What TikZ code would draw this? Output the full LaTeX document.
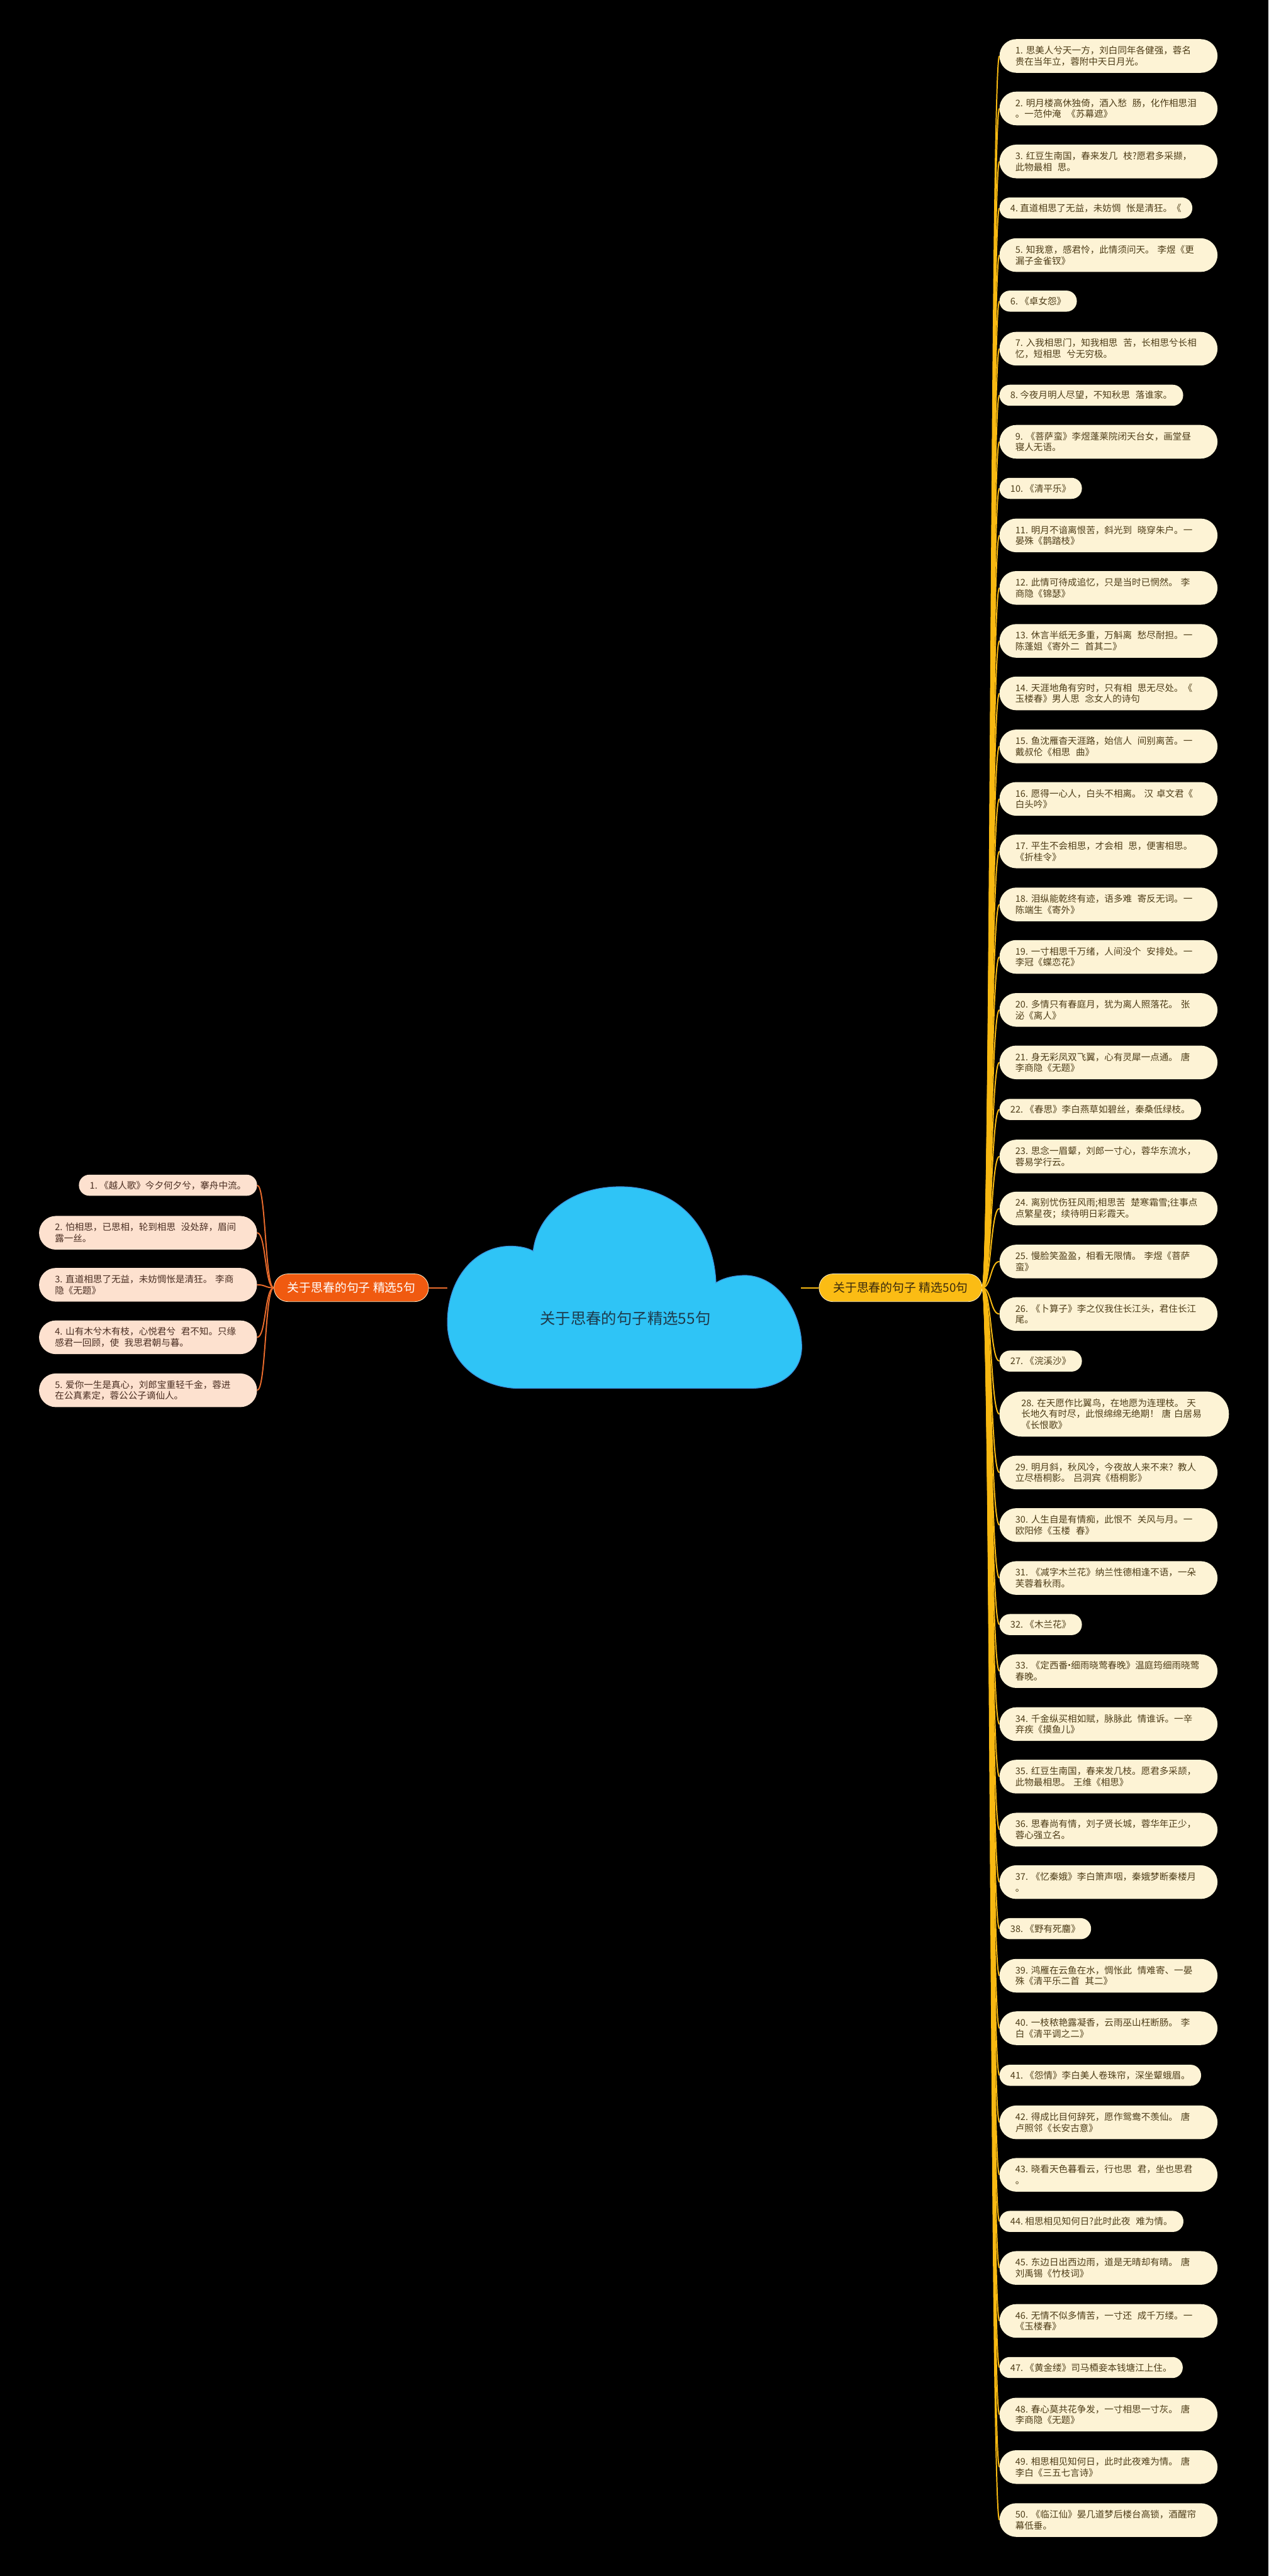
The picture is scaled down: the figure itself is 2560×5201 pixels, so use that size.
\documentclass[tikz,border=0pt]{standalone}
\usepackage{fontspec}
\usepackage{tikz}
\newfontfamily\cjk{Noto Sans CJK SC}
\newcommand{\gapsp}{\kern.6em}
\newcommand{\middot}{\makebox[.35em]{·}}

\definecolor{cream}{HTML}{FDF3D5}
\definecolor{creamtext}{HTML}{4E3D18}
\definecolor{gold}{HTML}{F8B912}
\definecolor{goldfill}{HTML}{FBBC14}
\definecolor{goldtext}{HTML}{3A2A0C}
\definecolor{peach}{HTML}{FDE1CF}
\definecolor{peachtext}{HTML}{4A2E22}
\definecolor{orng}{HTML}{F05A10}
\definecolor{orngline}{HTML}{E96B2C}
\definecolor{edge}{HTML}{FFF1CC}
\definecolor{sky}{HTML}{2FC4F6}
\definecolor{skyline}{HTML}{3B8FDB}
\definecolor{skytext}{HTML}{1E3B4C}

\begin{document}
\begin{tikzpicture}[
        x=1pt, y=-1pt,
        leaf/.style={rectangle, inner ysep=6pt, font=\cjk\fontsize{18.5pt}{22.5pt}\selectfont},
        rone/.style={leaf, fill=cream, text=creamtext, anchor=west, minimum height=42.5pt, rounded corners=21pt, inner xsep=22pt},
        rtwo/.style={leaf, fill=cream, text=creamtext, anchor=west, minimum height=68pt, rounded corners=34pt, inner xsep=32pt, text width=376pt, align=left},
        rthree/.style={rtwo, minimum height=91pt, rounded corners=45pt, inner xsep=44pt, text width=375pt},
        lone/.style={leaf, fill=peach, text=peachtext, anchor=east, minimum height=42.5pt, rounded corners=21pt, inner xsep=22pt},
        ltwo/.style={leaf, fill=peach, text=peachtext, anchor=east, minimum height=68pt, rounded corners=34pt, inner xsep=32pt, text width=376pt, align=left},
        branch/.style={rectangle, rounded corners=28pt, minimum height=56pt, draw=edge, line width=1pt, font=\cjk\fontsize{24pt}{28pt}\selectfont},
        rline/.style={draw=gold, line width=2.5pt},
        lline/.style={draw=orngline, line width=2.5pt}
    ]

    % Background
    \fill[black] (0,0) rectangle (2560,5201);

    % Cloud in the middle
    \draw[fill=sky, draw=skyline, line width=1.5pt] (1040,2803)
        .. controls (960,2798) and (903,2745) .. (903,2670)
        .. controls (903,2580) and (960,2516) .. (1030,2516)
        .. controls (1050,2516) and (1066,2520) .. (1076,2526)
        .. controls (1086,2445) and (1160,2396) .. (1252,2396)
        .. controls (1365,2396) and (1440,2475) .. (1445,2590)
        .. controls (1462,2579) and (1484,2575) .. (1506,2575)
        .. controls (1572,2578) and (1618,2650) .. (1618,2720)
        .. controls (1618,2772) and (1572,2803) .. (1515,2803)
        -- cycle;
    \node[font=\cjk\fontsize{31pt}{36pt}\selectfont, text=skytext] (root) at (1262,2662) {关于思春的句子精选55句};
    \coordinate (cw) at (903,2600);
    \coordinate (ce) at (1617,2600);

    % Branches
    \node[branch, fill=orng, text=white, minimum width=312pt] (lb) at (709,2600) {关于思春的句子~精选5句};
    \node[branch, fill=goldfill, text=goldtext, minimum width=329pt] (rb) at (1817.5,2600) {关于思春的句子~精选50句};

    \draw[lline] (cw) -- (lb.east);
    \draw[rline] (ce) -- (rb.west);

    % Left leaves
    \node[lone] (l1) at (519,2393) {1.~《越人歌》今夕何夕兮，搴舟中流。};
    \node[ltwo] (l2) at (519,2489) {2.~怕相思，已思相，轮到相思\gapsp 没处辞，眉间\\露一丝。};
    \node[ltwo] (l3) at (519,2594) {3.~直道相思了无益，未妨惆怅是清狂。~李商\\隐《无题》};
    \node[ltwo] (l4) at (519,2700) {4.~山有木兮木有枝，心悦君兮\gapsp 君不知。只缘\\感君一回顾，使\gapsp 我思君朝与暮。};
    \node[ltwo] (l5) at (519,2807) {5.~爱你一生是真心，刘郎宝重轻千金，蓉进\\在公真素定，蓉公公子谪仙人。};

    % Right leaves
    \node[rtwo] (r1) at (2017,113) {1.~思美人兮天一方，刘白同年各健强，蓉名\\贵在当年立，蓉附中天日月光。};
    \node[rtwo] (r2) at (2017,219) {2.~明月楼高休独倚，酒入愁\gapsp 肠，化作相思泪\\。一范仲淹\gapsp 《苏幕遮》};
    \node[rtwo] (r3) at (2017,326) {3.~红豆生南国，春来发几\gapsp 枝?愿君多采撷，\\此物最相\gapsp 思。};
    \node[rone] (r4) at (2017,420) {4.~直道相思了无益，未妨惆\gapsp 怅是清狂。《};
    \node[rtwo] (r5) at (2017,515) {5.~知我意，感君怜，此情须问天。~李煜《更\\漏子金雀钗》};
    \node[rone] (r6) at (2017,608) {6.~《卓女怨》};
    \node[rtwo] (r7) at (2017,704) {7.~入我相思门，知我相思\gapsp 苦，长相思兮长相\\忆，短相思\gapsp 兮无穷极。};
    \node[rone] (r8) at (2017,798) {8.~今夜月明人尽望，不知秋思\gapsp 落谁家。};
    \node[rtwo] (r9) at (2017,892) {9.~《菩萨蛮》李煜蓬莱院闭天台女，画堂昼\\寝人无语。};
    \node[rone] (r10) at (2017,986) {10.~《清平乐》};
    \node[rtwo] (r11) at (2017,1081) {11.~明月不谙离恨苦，斜光到\gapsp 晓穿朱户。一\\晏殊《鹊踏枝》};
    \node[rtwo] (r12) at (2017,1187) {12.~此情可待成追忆，只是当时已惘然。~李\\商隐《锦瑟》};
    \node[rtwo] (r13) at (2017,1294) {13.~休言半纸无多重，万斛离\gapsp 愁尽耐担。一\\陈蓬姐《寄外二\gapsp 首其二》};
    \node[rtwo] (r14) at (2017,1400) {14.~天涯地角有穷时，只有相\gapsp 思无尽处。《\\玉楼春》男人思\gapsp 念女人的诗句};
    \node[rtwo] (r15) at (2017,1507) {15.~鱼沈雁杳天涯路，始信人\gapsp 间别离苦。一\\戴叔伦《相思\gapsp 曲》};
    \node[rtwo] (r16) at (2017,1613) {16.~愿得一心人，白头不相离。~汉~卓文君《\\白头吟》};
    \node[rtwo] (r17) at (2017,1719) {17.~平生不会相思，才会相\gapsp 思，便害相思。\\《折桂令》};
    \node[rtwo] (r18) at (2017,1826) {18.~泪纵能乾终有迹，语多难\gapsp 寄反无词。一\\陈端生《寄外》};
    \node[rtwo] (r19) at (2017,1932) {19.~一寸相思千万绪，人间没个\gapsp 安排处。一\\李冠《蝶恋花》};
    \node[rtwo] (r20) at (2017,2039) {20.~多情只有春庭月，犹为离人照落花。~张\\泌《离人》};
    \node[rtwo] (r21) at (2017,2145) {21.~身无彩凤双飞翼，心有灵犀一点通。~唐\\李商隐《无题》};
    \node[rone] (r22) at (2017,2240) {22.~《春思》李白燕草如碧丝，秦桑低绿枝。};
    \node[rtwo] (r23) at (2017,2335) {23.~思念一眉颦，刘郎一寸心，蓉华东流水，\\蓉易学行云。};
    \node[rtwo] (r24) at (2017,2440) {24.~离别忧伤狂风雨;相思苦\gapsp 楚寒霜雪;往事点\\点繁星夜；续待明日彩霞天。};
    \node[rtwo] (r25) at (2017,2547) {25.~慢脸笑盈盈，相看无限情。~李煜《菩萨\\蛮》};
    \node[rtwo] (r26) at (2017,2653) {26.~《卜算子》李之仪我住长江头，君住长江\\尾。};
    \node[rone] (r27) at (2017,2748) {27.~《浣溪沙》};
    \node[rthree] (r28) at (2017,2855) {28.~在天愿作比翼鸟，在地愿为连理枝。~天\\长地久有时尽，此恨绵绵无绝期！~唐~白居易\\《长恨歌》};
    \node[rtwo] (r29) at (2017,2973) {29.~明月斜，秋风冷，今夜故人来不来？教人\\立尽梧桐影。~吕洞宾《梧桐影》};
    \node[rtwo] (r30) at (2017,3079) {30.~人生自是有情痴，此恨不\gapsp 关风与月。一\\欧阳修《玉楼\gapsp 春》};
    \node[rtwo] (r31) at (2017,3186) {31.~《减字木兰花》纳兰性德相逢不语，一朵\\芙蓉着秋雨。};
    \node[rone] (r32) at (2017,3280) {32.~《木兰花》};
    \node[rtwo] (r33) at (2017,3374) {33.~《定西番\middot 细雨晓莺春晚》温庭筠细雨晓莺\\春晚。};
    \node[rtwo] (r34) at (2017,3481) {34.~千金纵买相如赋，脉脉此\gapsp 情谁诉。一辛\\弃疾《摸鱼儿》};
    \node[rtwo] (r35) at (2017,3587) {35.~红豆生南国，春来发几枝。愿君多采颉，\\此物最相思。~王维《相思》};
    \node[rtwo] (r36) at (2017,3694) {36.~思春尚有情，刘子贤长城，蓉华年正少，\\蓉心强立名。};
    \node[rtwo] (r37) at (2017,3800) {37.~《忆秦娥》李白箫声咽，秦娥梦断秦楼月\\。};
    \node[rone] (r38) at (2017,3894) {38.~《野有死麕》};
    \node[rtwo] (r39) at (2017,3989) {39.~鸿雁在云鱼在水，惆怅此\gapsp 情难寄、一晏\\殊《清平乐二首\gapsp 其二》};
    \node[rtwo] (r40) at (2017,4095) {40.~一枝秾艳露凝香，云雨巫山枉断肠。~李\\白《清平调之二》};
    \node[rone] (r41) at (2017,4190) {41.~《怨情》李白美人卷珠帘，深坐颦蛾眉。};
    \node[rtwo] (r42) at (2017,4285) {42.~得成比目何辞死，愿作鸳鸯不羡仙。~唐\\卢照邻《长安古意》};
    \node[rtwo] (r43) at (2017,4391) {43.~晓看天色暮看云，行也思\gapsp 君，坐也思君\\。};
    \node[rone] (r44) at (2017,4485) {44.~相思相见知何日?此时此夜\gapsp 难为情。};
    \node[rtwo] (r45) at (2017,4579) {45.~东边日出西边雨，道是无晴却有晴。~唐\\刘禹锡《竹枝词》};
    \node[rtwo] (r46) at (2017,4686) {46.~无情不似多情苦，一寸还\gapsp 成千万缕。一\\《玉楼春》};
    \node[rone] (r47) at (2017,4780) {47.~《黄金缕》司马槱妾本钱塘江上住。};
    \node[rtwo] (r48) at (2017,4875) {48.~春心莫共花争发，一寸相思一寸灰。~唐\\李商隐《无题》};
    \node[rtwo] (r49) at (2017,4981) {49.~相思相见知何日，此时此夜难为情。~唐\\李白《三五七言诗》};
    \node[rtwo] (r50) at (2017,5088) {50.~《临江仙》晏几道梦后楼台高锁，酒醒帘\\幕低垂。};

    % Left connectors
    \draw[lline] (lb.west) .. controls +(-18,0) and +(18,0) .. (l1.east);
    \draw[lline] (lb.west) .. controls +(-18,0) and +(18,0) .. (l2.east);
    \draw[lline] (lb.west) .. controls +(-18,0) and +(18,0) .. (l3.east);
    \draw[lline] (lb.west) .. controls +(-18,0) and +(18,0) .. (l4.east);
    \draw[lline] (lb.west) .. controls +(-18,0) and +(18,0) .. (l5.east);

    % Right connectors
    \draw[rline] (rb.east) .. controls +(18,0) and +(-18,0) .. (r1.west);
    \draw[rline] (rb.east) .. controls +(18,0) and +(-18,0) .. (r2.west);
    \draw[rline] (rb.east) .. controls +(18,0) and +(-18,0) .. (r3.west);
    \draw[rline] (rb.east) .. controls +(18,0) and +(-18,0) .. (r4.west);
    \draw[rline] (rb.east) .. controls +(18,0) and +(-18,0) .. (r5.west);
    \draw[rline] (rb.east) .. controls +(18,0) and +(-18,0) .. (r6.west);
    \draw[rline] (rb.east) .. controls +(18,0) and +(-18,0) .. (r7.west);
    \draw[rline] (rb.east) .. controls +(18,0) and +(-18,0) .. (r8.west);
    \draw[rline] (rb.east) .. controls +(18,0) and +(-18,0) .. (r9.west);
    \draw[rline] (rb.east) .. controls +(18,0) and +(-18,0) .. (r10.west);
    \draw[rline] (rb.east) .. controls +(18,0) and +(-18,0) .. (r11.west);
    \draw[rline] (rb.east) .. controls +(18,0) and +(-18,0) .. (r12.west);
    \draw[rline] (rb.east) .. controls +(18,0) and +(-18,0) .. (r13.west);
    \draw[rline] (rb.east) .. controls +(18,0) and +(-18,0) .. (r14.west);
    \draw[rline] (rb.east) .. controls +(18,0) and +(-18,0) .. (r15.west);
    \draw[rline] (rb.east) .. controls +(18,0) and +(-18,0) .. (r16.west);
    \draw[rline] (rb.east) .. controls +(18,0) and +(-18,0) .. (r17.west);
    \draw[rline] (rb.east) .. controls +(18,0) and +(-18,0) .. (r18.west);
    \draw[rline] (rb.east) .. controls +(18,0) and +(-18,0) .. (r19.west);
    \draw[rline] (rb.east) .. controls +(18,0) and +(-18,0) .. (r20.west);
    \draw[rline] (rb.east) .. controls +(18,0) and +(-18,0) .. (r21.west);
    \draw[rline] (rb.east) .. controls +(18,0) and +(-18,0) .. (r22.west);
    \draw[rline] (rb.east) .. controls +(18,0) and +(-18,0) .. (r23.west);
    \draw[rline] (rb.east) .. controls +(18,0) and +(-18,0) .. (r24.west);
    \draw[rline] (rb.east) .. controls +(18,0) and +(-18,0) .. (r25.west);
    \draw[rline] (rb.east) .. controls +(18,0) and +(-18,0) .. (r26.west);
    \draw[rline] (rb.east) .. controls +(18,0) and +(-18,0) .. (r27.west);
    \draw[rline] (rb.east) .. controls +(18,0) and +(-18,0) .. (r28.west);
    \draw[rline] (rb.east) .. controls +(18,0) and +(-18,0) .. (r29.west);
    \draw[rline] (rb.east) .. controls +(18,0) and +(-18,0) .. (r30.west);
    \draw[rline] (rb.east) .. controls +(18,0) and +(-18,0) .. (r31.west);
    \draw[rline] (rb.east) .. controls +(18,0) and +(-18,0) .. (r32.west);
    \draw[rline] (rb.east) .. controls +(18,0) and +(-18,0) .. (r33.west);
    \draw[rline] (rb.east) .. controls +(18,0) and +(-18,0) .. (r34.west);
    \draw[rline] (rb.east) .. controls +(18,0) and +(-18,0) .. (r35.west);
    \draw[rline] (rb.east) .. controls +(18,0) and +(-18,0) .. (r36.west);
    \draw[rline] (rb.east) .. controls +(18,0) and +(-18,0) .. (r37.west);
    \draw[rline] (rb.east) .. controls +(18,0) and +(-18,0) .. (r38.west);
    \draw[rline] (rb.east) .. controls +(18,0) and +(-18,0) .. (r39.west);
    \draw[rline] (rb.east) .. controls +(18,0) and +(-18,0) .. (r40.west);
    \draw[rline] (rb.east) .. controls +(18,0) and +(-18,0) .. (r41.west);
    \draw[rline] (rb.east) .. controls +(18,0) and +(-18,0) .. (r42.west);
    \draw[rline] (rb.east) .. controls +(18,0) and +(-18,0) .. (r43.west);
    \draw[rline] (rb.east) .. controls +(18,0) and +(-18,0) .. (r44.west);
    \draw[rline] (rb.east) .. controls +(18,0) and +(-18,0) .. (r45.west);
    \draw[rline] (rb.east) .. controls +(18,0) and +(-18,0) .. (r46.west);
    \draw[rline] (rb.east) .. controls +(18,0) and +(-18,0) .. (r47.west);
    \draw[rline] (rb.east) .. controls +(18,0) and +(-18,0) .. (r48.west);
    \draw[rline] (rb.east) .. controls +(18,0) and +(-18,0) .. (r49.west);
    \draw[rline] (rb.east) .. controls +(18,0) and +(-18,0) .. (r50.west);

\end{tikzpicture}
\end{document}
